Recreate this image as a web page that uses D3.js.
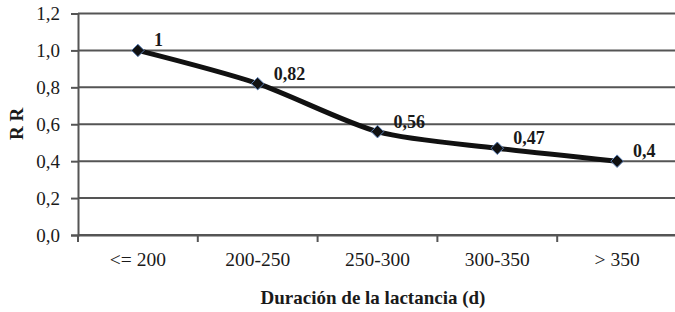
<!DOCTYPE html>
<html>
<head>
<meta charset="utf-8">
<script src="https://cdn.jsdelivr.net/npm/d3@7"></script>
<style>
  body { margin: 0; background: #fff; }
</style>
</head>
<body>
<div id="plot"></div>
<script>
// chart data
const categories = ["<= 200", "200-250", "250-300", "300-350", "> 350"];
const rrValues = [1, 0.82, 0.56, 0.47, 0.4];
const rrLabels = ["1", "0,82", "0,56", "0,47", "0,4"];
const yTicks = [0, 0.2, 0.4, 0.6, 0.8, 1.0, 1.2];

const width = 675, height = 312;
const plotLeft = 78, plotRight = 677, plotTop = 13.5, plotBottom = 235;
const serif = "'Liberation Serif'";
const gridColor = "#555";

const svg = d3.select("#plot")
  .append("svg")
    .attr("width", width)
    .attr("height", height);

const x = d3.scaleBand()
  .domain(categories)
  .range([plotLeft, plotRight]);

const y = d3.scaleLinear()
  .domain([0, 1.2])
  .range([plotBottom, plotTop]);

// gridlines
svg.append("g")
  .selectAll("line")
  .data(yTicks)
  .enter()
  .append("line")
    .attr("x1", plotLeft)
    .attr("x2", plotRight)
    .attr("y1", d => y(d))
    .attr("y2", d => y(d))
    .style("stroke", gridColor)
    .style("stroke-width", 2);

// Y axis
const yAxis = svg.append("g")
  .attr("transform", "translate(" + plotLeft + ",0)")
  .call(d3.axisLeft(y).tickValues(yTicks).tickSize(7).tickPadding(11)
    .tickFormat(d => d3.format(".1f")(d).replace(".", ",")));
yAxis.select(".domain").style("stroke", gridColor).style("stroke-width", 2);
yAxis.selectAll(".tick line").style("stroke", gridColor).style("stroke-width", 2);
yAxis.selectAll("text").style("font-family", serif).style("font-size", "19px").style("fill", "#1a1a1a");

// X axis
const xAxis = svg.append("g")
  .attr("transform", "translate(0," + plotBottom + ")")
  .call(d3.axisBottom(x).tickSize(0).tickPadding(17.5));
xAxis.select(".domain").style("stroke", gridColor).style("stroke-width", 2);
xAxis.selectAll("text").style("font-family", serif).style("font-size", "19.5px").style("fill", "#1a1a1a");

// x tick marks between categories
svg.append("g")
  .selectAll("line")
  .data(categories)
  .enter()
  .append("line")
    .attr("x1", d => x(d))
    .attr("x2", d => x(d))
    .attr("y1", plotBottom)
    .attr("y2", plotBottom + 7)
    .style("stroke", gridColor)
    .style("stroke-width", 2);

// axis titles
svg.append("text")
  .attr("x", 373)
  .attr("y", 304)
  .style("text-anchor", "middle")
  .style("font-family", serif)
  .style("font-weight", "bold")
  .style("font-size", "19px")
  .style("fill", "#1a1a1a")
  .text("Duración de la lactancia (d)");

svg.append("text")
  .attr("transform", "translate(23,124) rotate(-90)")
  .style("text-anchor", "middle")
  .style("font-family", serif)
  .style("font-weight", "bold")
  .style("font-size", "19px")
  .style("fill", "#1a1a1a")
  .text("R R");

// smoothed line
const line = d3.line()
  .x((d, i) => x(categories[i]) + x.bandwidth() / 2)
  .y(d => y(d))
  .curve(d3.curveCardinal.tension(0.2));

svg.append("path")
  .datum(rrValues)
  .attr("d", line)
  .style("fill", "none")
  .style("stroke", "#111")
  .style("stroke-width", 5);

// diamond markers
svg.append("g")
  .selectAll("path")
  .data(rrValues)
  .enter()
  .append("path")
    .attr("transform", (d, i) => "translate(" + (x(categories[i]) + x.bandwidth() / 2) + "," + y(d) + ")")
    .attr("d", d3.symbol().type(d3.symbolDiamond2).size(100))
    .style("fill", "#111")
    .style("stroke", "#5b7fb5")
    .style("stroke-width", 1);

// data labels
svg.append("g")
  .selectAll("text")
  .data(rrValues)
  .enter()
  .append("text")
    .attr("x", (d, i) => x(categories[i]) + x.bandwidth() / 2 + 16)
    .attr("y", d => y(d) - 4)
    .style("font-family", serif)
    .style("font-weight", "bold")
    .style("font-size", "18px")
    .style("fill", "#1a1a1a")
    .text((d, i) => rrLabels[i]);
</script>
</body>
</html>
